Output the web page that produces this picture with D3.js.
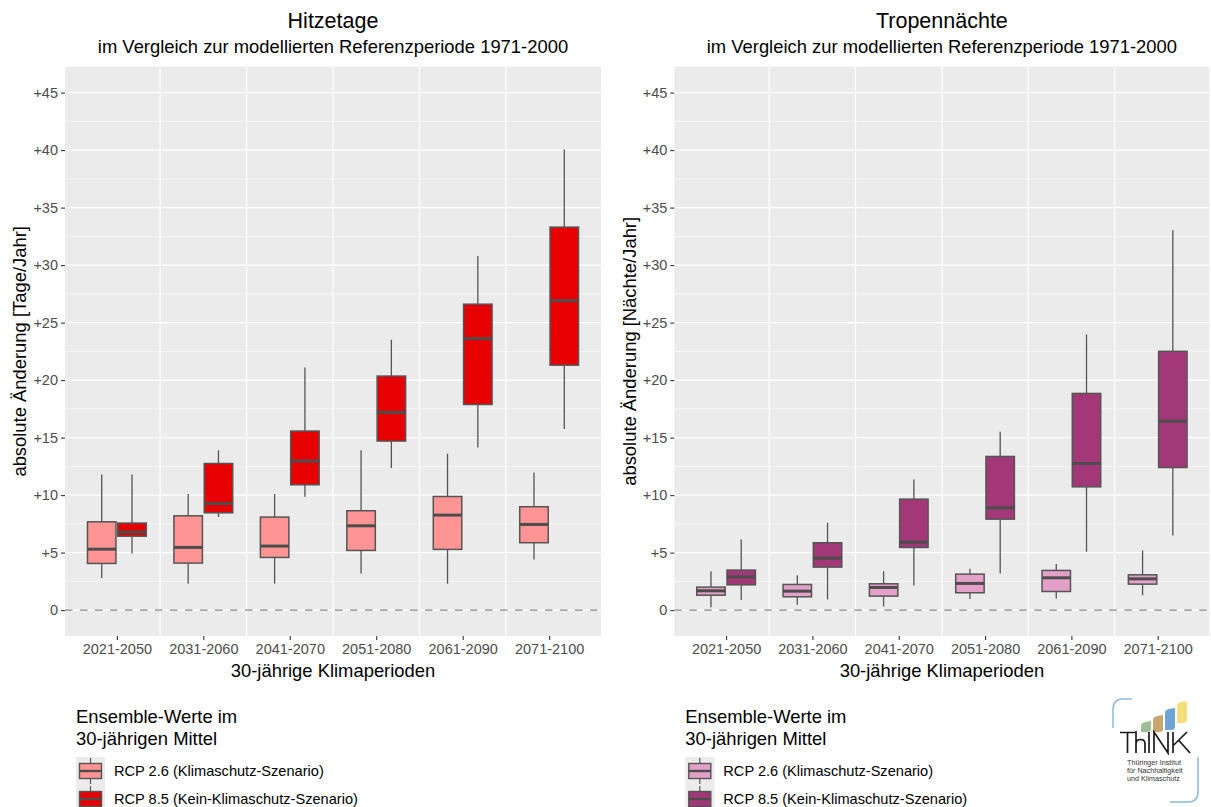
<!DOCTYPE html>
<html>
<head>
<meta charset="utf-8">
<script src="https://cdn.jsdelivr.net/npm/d3@7"></script>
<style>
  html, body { margin: 0; padding: 0; background: #fff; }
  svg { display: block; font-family: "Liberation Sans", Arial, sans-serif; }
</style>
</head>
<body>
<div id="chart"></div>
<script>
// data: five-number summaries [min, q1, median, q3, max] per period
const periods = ['2021-2050', '2031-2060', '2041-2070', '2051-2080', '2061-2090', '2071-2100'];
const scenarios = ['rcp26', 'rcp85'];
const legendLabels = ['RCP 2.6 (Klimaschutz-Szenario)', 'RCP 8.5 (Kein-Klimaschutz-Szenario)'];
const yTicks = [0, 5, 10, 15, 20, 25, 30, 35, 40, 45];

const hitzeRcp26 = [
  [2.8, 4.06, 5.3, 7.68, 11.8],
  [2.3, 4.09, 5.45, 8.2, 10.1],
  [2.3, 4.58, 5.57, 8.09, 10.1],
  [3.19, 5.19, 7.33, 8.64, 13.9],
  [2.3, 5.28, 8.26, 9.88, 13.6],
  [4.4, 5.86, 7.45, 8.99, 11.97]
];
const hitzeRcp85 = [
  [4.93, 6.43, 6.78, 7.57, 11.8],
  [8.1, 8.46, 9.28, 12.75, 13.9],
  [9.86, 10.9, 12.96, 15.57, 21.1],
  [12.35, 14.7, 17.19, 20.35, 23.5],
  [14.14, 17.88, 23.6, 26.6, 30.8],
  [15.74, 21.3, 26.9, 33.3, 40.06]
];
const tropenRcp26 = [
  [0.26, 1.3, 1.68, 2.0, 3.39],
  [0.46, 1.16, 1.65, 2.23, 3.04],
  [0.32, 1.22, 1.97, 2.29, 3.39],
  [0.96, 1.51, 2.32, 3.13, 3.59],
  [1.01, 1.62, 2.81, 3.45, 4.0],
  [1.3, 2.26, 2.72, 3.07, 5.19]
];
const tropenRcp85 = [
  [0.87, 2.2, 2.9, 3.48, 6.14],
  [0.93, 3.74, 4.52, 5.86, 7.59],
  [2.14, 5.45, 5.91, 9.65, 11.36],
  [3.19, 7.91, 8.9, 13.36, 15.5],
  [5.07, 10.72, 12.75, 18.84, 23.97],
  [6.49, 12.4, 16.43, 22.5, 33.04]
];

const W = 1211, H = 807;
const PT = 66.7, PB = 636;
const INK = '#555555';

const svg = d3.select('#chart').append('svg').attr('width', W).attr('height', H);

const y = d3.scaleLinear().domain([-2.25, 47.25]).range([PB, PT]);

function panel(cfg) {
  const g = svg.append('g');
  const x = d3.scalePoint().domain(periods).range([cfg.x0, cfg.x1]).padding(0.6);
  const step = x.step();
  const dodge = d3.scaleBand().domain(scenarios).range([-0.34 * step, 0.34 * step]).paddingInner(0.06);
  const cx = (cfg.x0 + cfg.x1) / 2;

  // titles
  g.append('text').attr('x', cx).attr('y', 28).attr('text-anchor', 'middle')
    .style('font-size', '21.5px').style('fill', '#000').text(cfg.title);
  g.append('text').attr('x', cx).attr('y', 53).attr('text-anchor', 'middle')
    .style('font-size', '18.4px').style('fill', '#000').text('im Vergleich zur modellierten Referenzperiode 1971-2000');

  // panel bg + grid
  g.append('rect').attr('x', cfg.x0).attr('y', PT).attr('width', cfg.x1 - cfg.x0).attr('height', PB - PT).attr('fill', '#ebebeb');
  g.selectAll('.mn').data(d3.range(2.5, 47, 5)).join('line')
    .attr('x1', cfg.x0).attr('x2', cfg.x1).attr('y1', d => y(d)).attr('y2', d => y(d))
    .attr('stroke', '#fff').attr('stroke-width', 0.6);
  g.selectAll('.mj').data(yTicks).join('line')
    .attr('x1', cfg.x0).attr('x2', cfg.x1).attr('y1', d => y(d)).attr('y2', d => y(d))
    .attr('stroke', '#fff').attr('stroke-width', 1.2);
  g.selectAll('.vg').data(periods.slice(1)).join('line')
    .attr('x1', d => x(d) - step / 2).attr('x2', d => x(d) - step / 2).attr('y1', PT).attr('y2', PB)
    .attr('stroke', '#fff').attr('stroke-width', 1.2);

  // reference line at 0
  g.append('line').attr('x1', cfg.x0).attr('x2', cfg.x1).attr('y1', y(0)).attr('y2', y(0))
    .attr('stroke', '#a8a8a8').attr('stroke-width', 1.6).attr('stroke-dasharray', '7.5,7.5');

  // axes
  const ya = g.append('g').attr('transform', `translate(${cfg.x0},0)`)
    .call(d3.axisLeft(y).tickValues(yTicks).tickSize(4).tickPadding(3).tickFormat(d => d === 0 ? '0' : '+' + d));
  const xa = g.append('g').attr('transform', `translate(0,${PB})`)
    .call(d3.axisBottom(x).tickSize(4).tickPadding(3.5));
  [ya, xa].forEach(a => {
    a.select('.domain').remove();
    a.selectAll('line').attr('stroke', '#333').attr('stroke-width', 1.1);
    a.selectAll('text').style('font-size', '14.5px').style('fill', '#4d4d4d').attr('font-family', null);
  });

  g.append('text').attr('x', cx).attr('y', 677).attr('text-anchor', 'middle')
    .style('font-size', '18.4px').style('fill', '#000').text('30-jährige Klimaperioden');
  g.append('text').attr('transform', `translate(${cfg.x0 - 45},${(PT + PB) / 2}) rotate(-90)`)
    .attr('text-anchor', 'middle').attr('dy', '0.35em')
    .style('font-size', '18.4px').style('fill', '#000').text(cfg.ylab);

  // boxplots
  const series = [cfg.low, cfg.high];
  series.forEach((vals, si) => {
    const s = scenarios[si];
    const bw = dodge.bandwidth();
    const bg = g.append('g');
    const rows = vals.map((v, i) => ({ p: periods[i], v, xc: x(periods[i]) + dodge(s) + bw / 2 }));
    bg.selectAll('.wh').data(rows).join('path')
      .attr('d', d => `M${d.xc},${y(d.v[0])}V${y(d.v[1])}M${d.xc},${y(d.v[3])}V${y(d.v[4])}`)
      .attr('stroke', INK).attr('stroke-width', 1.3).attr('fill', 'none');
    bg.selectAll('.bx').data(rows).join('rect')
      .attr('x', d => d.xc - bw / 2).attr('width', bw)
      .attr('y', d => y(d.v[3])).attr('height', d => y(d.v[1]) - y(d.v[3]))
      .attr('fill', cfg.colors[si]).attr('stroke', INK).attr('stroke-width', 1.5);
    bg.selectAll('.md').data(rows).join('line')
      .attr('x1', d => d.xc - bw / 2).attr('x2', d => d.xc + bw / 2)
      .attr('y1', d => y(d.v[2])).attr('y2', d => y(d.v[2]))
      .attr('stroke', '#4d4d4d').attr('stroke-width', 3);
  });

  // legend
  const lx = cfg.x0 + 11;
  const lg = g.append('g');
  lg.append('text').attr('x', lx).attr('y', 723).style('font-size', '18.4px').text('Ensemble-Werte im');
  lg.append('text').attr('x', lx).attr('y', 744.5).style('font-size', '18.4px').text('30-jährigen Mittel');
  legendLabels.forEach((lab, i) => {
    const ky = 757 + i * 28;
    const k = lg.append('g').attr('transform', `translate(${lx},${ky})`);
    k.append('rect').attr('width', 29).attr('height', 28).attr('fill', '#ebebeb');
    k.append('line').attr('x1', 14.5).attr('x2', 14.5).attr('y1', 1).attr('y2', 27).attr('stroke', INK).attr('stroke-width', 1.2);
    k.append('rect').attr('x', 3.5).attr('y', 6.5).attr('width', 22).attr('height', 15)
      .attr('fill', cfg.colors[i]).attr('stroke', INK).attr('stroke-width', 1.4);
    k.append('line').attr('x1', 3.5).attr('x2', 25.5).attr('y1', 14).attr('y2', 14).attr('stroke', '#4d4d4d').attr('stroke-width', 2.4);
    lg.append('text').attr('x', lx + 38).attr('y', ky + 14).attr('dy', '0.35em')
      .style('font-size', '14.6px').style('fill', '#000').text(lab);
  });
}

panel({ x0: 65, x1: 601, title: 'Hitzetage', ylab: 'absolute Änderung [Tage/Jahr]',
  low: hitzeRcp26, high: hitzeRcp85, colors: ['#ff9494', '#e60000'] });
panel({ x0: 674.3, x1: 1209.5, title: 'Tropennächte', ylab: 'absolute Änderung [Nächte/Jahr]',
  low: tropenRcp26, high: tropenRcp85, colors: ['#e3a0c8', '#a23878'] });

// ThINK logo
const logo = svg.append('g');
logo.append('path').attr('d', 'M1113,728 V709 Q1113,699 1123,699 H1132')
  .attr('fill', 'none').attr('stroke', '#8fb8e0').attr('stroke-width', 1.5);
logo.append('path').attr('d', 'M1198,757 V792 Q1198,802 1188,802 H1170')
  .attr('fill', 'none').attr('stroke', '#8fb8e0').attr('stroke-width', 1.5);
const leaves = [
  { x: 1141, y: 723, h: 9, c: '#9dbf95' },
  { x: 1153, y: 717, h: 15, c: '#c9a56e' },
  { x: 1165, y: 710, h: 20, c: '#6fa3d4' },
  { x: 1177, y: 703, h: 20, c: '#f3e07c' }
];
leaves.forEach(l => {
  logo.append('path')
    .attr('d', `M${l.x},${l.y + 3} Q${l.x},${l.y} ${l.x + 4},${l.y - 1} L${l.x + 10},${l.y - 2} V${l.y + l.h - 3} Q${l.x + 10},${l.y + l.h} ${l.x + 6},${l.y + l.h} H${l.x} Z`)
    .attr('fill', l.c);
});
// thin-stroke lettering "ThINK"
logo.append('path')
  .attr('d', [
    'M1120,732.5 H1135 M1127.5,732.5 V753',
    'M1136,731 V753 M1136,744 Q1136,739.5 1140.5,739.5 Q1145,739.5 1145,744 V753',
    'M1149,732 V753',
    'M1154,753 V732 L1168,753 V732',
    'M1173,732 V753 M1173.8,745 L1187,732 M1178.5,740 L1190,753'
  ].join(' '))
  .attr('fill', 'none').attr('stroke', '#1a1a1a').attr('stroke-width', 1.7);
['Thüringer Institut', 'für Nachhaltigkeit', 'und Klimaschutz'].forEach((t, i) => {
  logo.append('text').attr('x', 1127).attr('y', 765 + i * 8.2).style('font-size', '7.2px').style('fill', '#333')
    .attr('font-family', '"Liberation Sans Narrow", sans-serif').text(t);
});
</script>
</body>
</html>
